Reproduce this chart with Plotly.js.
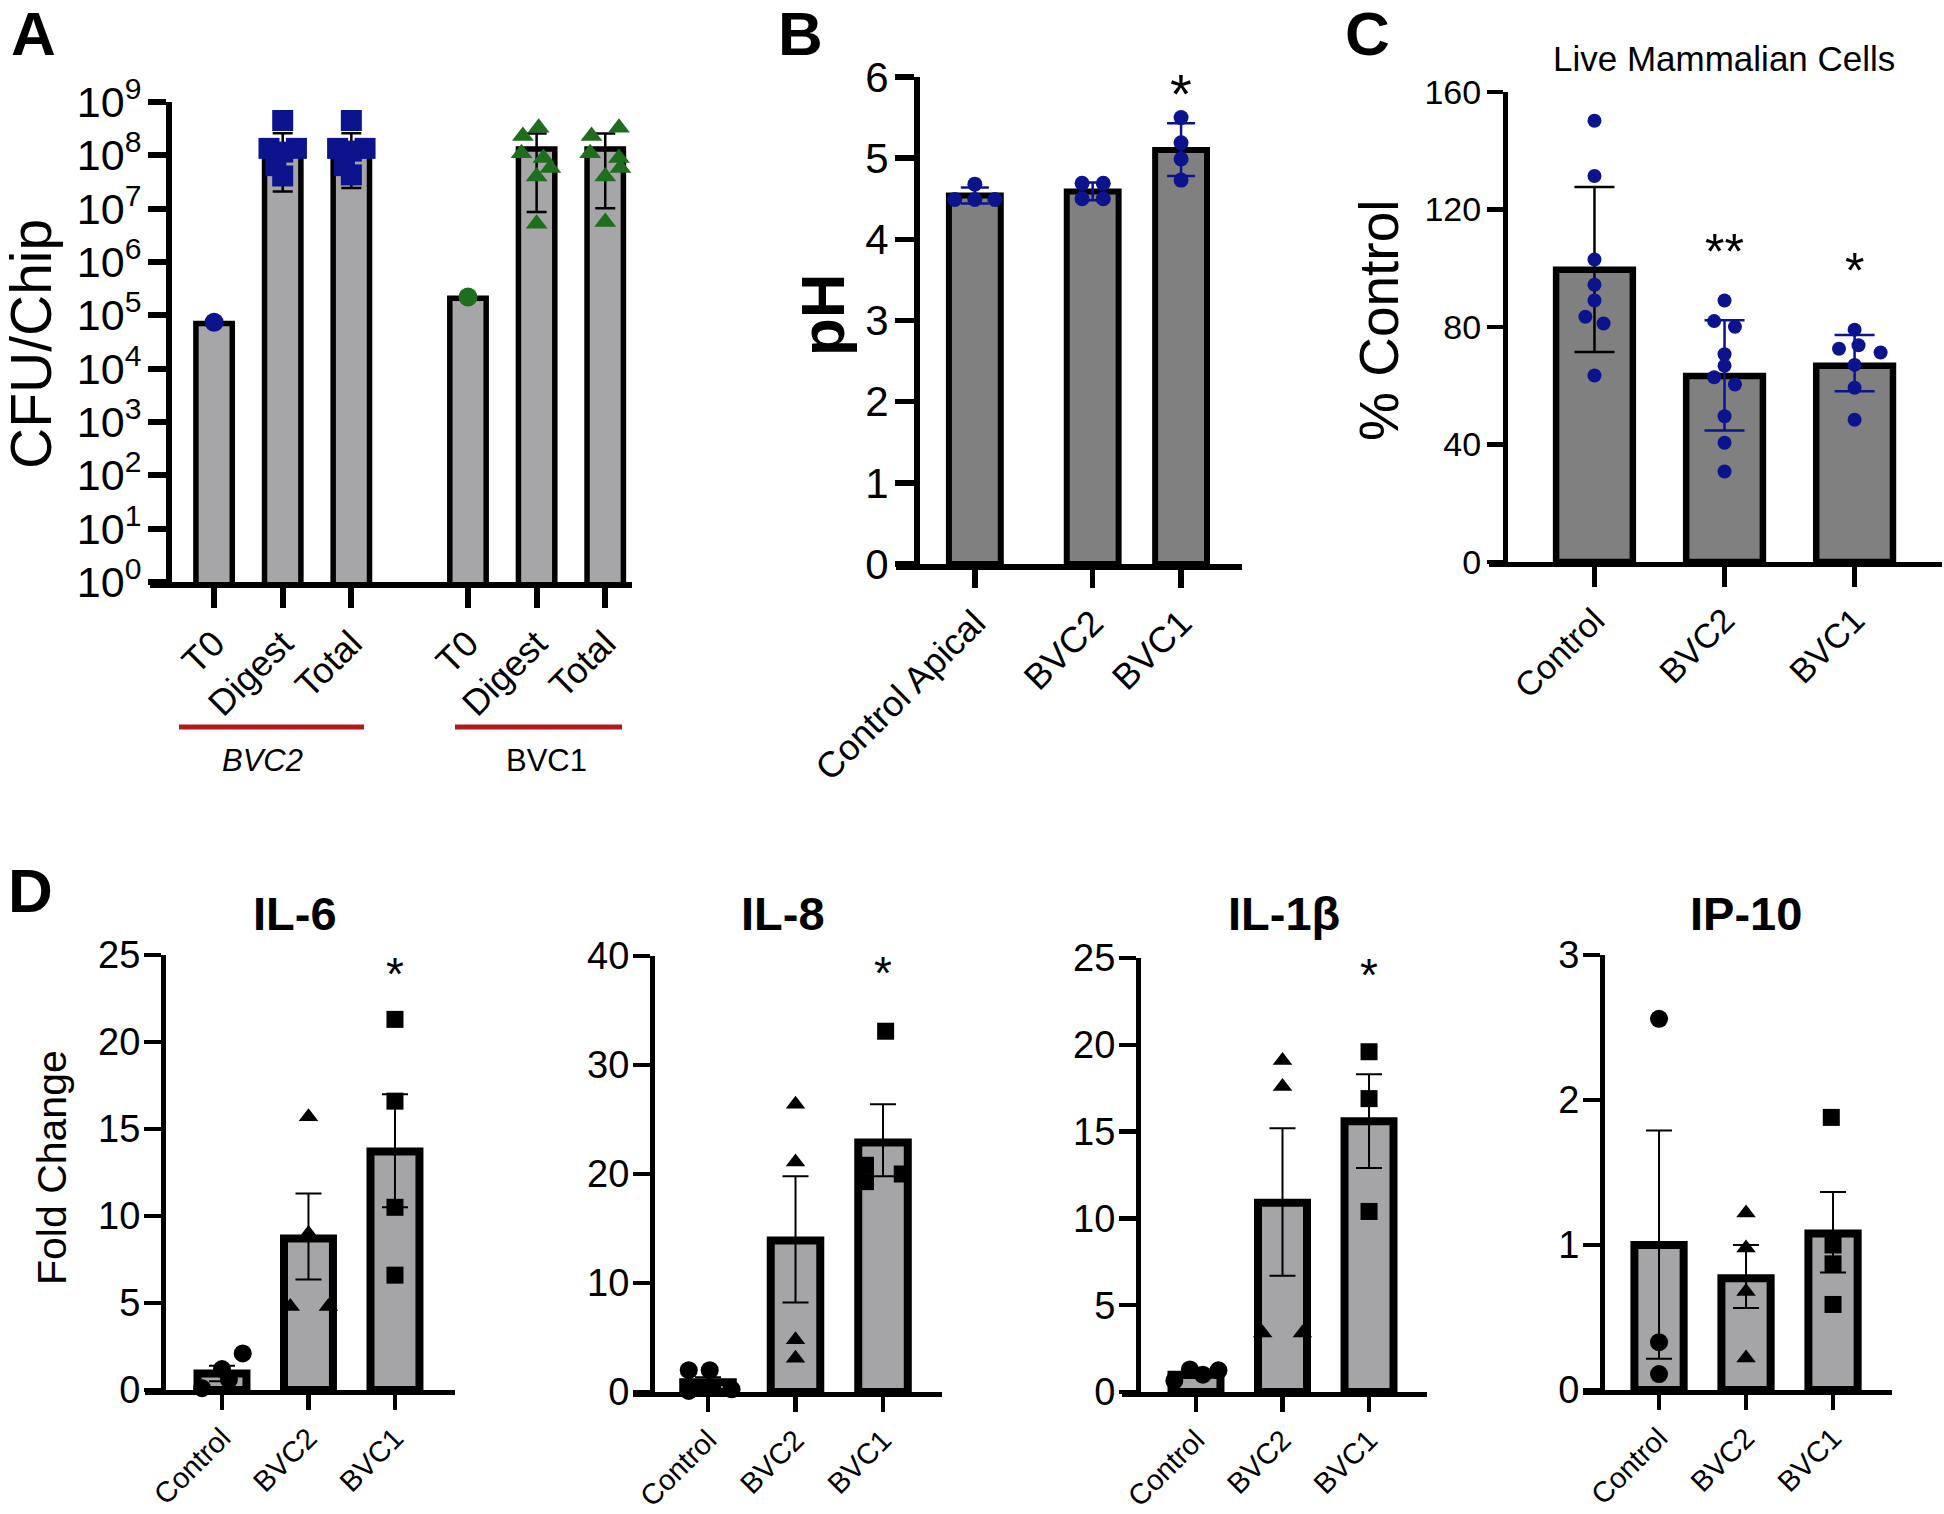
<!DOCTYPE html>
<html>
<head>
<meta charset="utf-8">
<script src="https://cdn.plot.ly/plotly-3.0.1.min.js"></script>
<style>html,body{margin:0;padding:0;background:#fff}#chart{width:1944px;height:1514px}</style>
</head>
<body>
<div id="chart"></div>
<script>
// ---------------- DATA ----------------
// Panel A (CFU/Chip, log scale)
const aCategories = ['T0', 'Digest', 'Total', 'T0', 'Digest', 'Total'];
const aGroups = ['BVC2', 'BVC1'];
const aMeans = [7.0e4, 1.2e8, 1.2e8, 2.1e5, 1.32e8, 1.32e8];
const aUpper = [null, 2.6e8, 2.6e8, null, 2.57e8, 2.57e8];
const aLower = [null, 2.1e7, 2.45e7, null, 8.7e6, 1.02e7];
const aBvc2T0 = [7.4e4];
const aBvc2Digest = [4.5e8, 1.35e8, 1.35e8, 1.15e8, 6.4e7, 4.1e7];
const aBvc2Total = [4.5e8, 1.35e8, 1.35e8, 1.2e8, 6.4e7, 4.3e7];
const aBvc1T0 = [2.2e5];
const aBvc1Digest = [3.3e8, 2.3e8, 1.1e8, 8.9e7, 5.8e7, 4.0e7, 5.2e6];
const aBvc1Total = [3.3e8, 2.3e8, 1.1e8, 8.9e7, 5.8e7, 4.0e7, 5.6e6];

// Panel B (pH)
const bCategories = ['Control Apical', 'BVC2', 'BVC1'];
const bMeans = [4.54, 4.59, 5.10];
const bUpper = [4.64, 4.70, 5.43];
const bLower = [4.44, 4.48, 4.78];
const bControlPts = [4.49, 4.68, 4.49, 4.49];
const bBvc2Pts = [4.69, 4.69, 4.50, 4.50];
const bBvc1Pts = [5.50, 5.19, 4.99, 4.73];
const bStars = ['', '', '*'];

// Panel C (% Control)
const cCategories = ['Control', 'BVC2', 'BVC1'];
const cMeans = [99.5, 63.3, 66.8];
const cUpper = [127.7, 82.3, 77.3];
const cLower = [71.5, 44.8, 58.1];
const cControlPts = [150.2, 131.4, 103.0, 94.4, 89.0, 83.5, 81.2, 63.5];
const cBvc2Pts = [89.0, 82.0, 80.1, 70.7, 66.8, 62.9, 60.4, 49.6, 40.6, 30.8];
const cBvc1Pts = [79.1, 72.6, 73.8, 71.3, 67.1, 59.3, 48.4];
const cStars = ['', '**', '*'];

// Panel D (Fold change)
const dCategories = ['Control', 'BVC2', 'BVC1'];
const dTitles = ['IL-6', 'IL-8', 'IL-1β', 'IP-10'];
const il6Means = [0.95, 8.7, 13.7];
const il6Upper = [1.40, 11.3, 17.0];
const il6Lower = [0.50, 6.35, 10.5];
const il6Control = [0.1, 1.2, 2.1, 0.6];
const il6Bvc2 = [15.7, 9.0, 4.8, 4.8];
const il6Bvc1 = [21.3, 16.6, 10.5, 6.6];
const il6Stars = ['', '', '*'];

const il8Means = [0.9, 13.9, 22.9];
const il8Upper = [1.35, 19.8, 26.4];
const il8Lower = [0.45, 8.2, 19.8];
const il8Control = [2.0, 2.0, 0.1, 0.25];
const il8Bvc2 = [26.4, 21.1, 4.8, 3.1];
const il8Bvc1 = [33.1, 20.8, 20.0, 19.3];
const il8Stars = ['', '', '*'];

const il1bMeans = [1.0, 10.9, 15.6];
const il1bUpper = [1.2, 15.2, 18.3];
const il1bLower = [0.8, 6.7, 12.9];
const il1bControl = [0.65, 1.3, 1.0, 1.25];
const il1bBvc2 = [19.1, 17.6, 3.4, 3.4];
const il1bBvc1 = [19.6, 16.9, 10.4];
const il1bStars = ['', '', '*'];

const ip10Means = [1.0, 0.77, 1.08];
const ip10Upper = [1.79, 1.0, 1.365];
const ip10Lower = [0.215, 0.566, 0.81];
const ip10Control = [2.56, 0.33, 0.11];
const ip10Bvc2 = [1.22, 0.98, 0.68, 0.22];
const ip10Bvc1 = [1.88, 1.0, 0.87, 0.59];
const ip10Stars = ['', '', ''];

// ---------------- LAYOUT / STYLE ----------------
const W = 1944, H = 1514;
const FONT = 'Liberation Sans, Arial, Helvetica, sans-serif';
const NAVY = '#0b148c', GREEN = '#1e6e1e', RED = '#b01a1a';
const px = v => v / W, py = v => 1 - v / H;

// horizontal scatter offsets of points (category units)
const aCatPos = [0, 1, 2, 3.7, 4.7, 5.7];
const jitA2 = [0, -0.2, 0.2, 0, -0.1, 0];
const jitA1D = [0.03, -0.2, -0.22, 0.1, 0.2, 0, 0];
const jitA1T = [0.2, -0.2, -0.22, 0.2, 0.22, 0, 0];
const bCatPos = [0, 1, 1.75];
const jitB = [[-0.17, 0, 0, 0.17], [-0.09, 0.09, -0.09, 0.09], [0, 0, 0, 0]];
const jitC = [[0, 0, 0, 0, 0, -0.07, 0.07, 0], [0, -0.08, 0.08, 0, 0, -0.08, 0.08, 0, 0, 0], [0, -0.12, 0.03, 0.2, 0, 0, 0]];
const jitD = [
  [[-0.23, 0, 0.24, 0.08], [0, 0, -0.21, 0.23], [0, 0, 0, 0]],
  [[-0.22, 0.02, -0.22, 0.27], [0, 0, 0, 0], [0.03, -0.2, 0.22, -0.2]],
  [[-0.25, -0.07, 0.08, 0.26], [0, 0, -0.23, 0.23], [0, 0, 0]],
  [[0, 0, 0], [0, 0, 0, 0], [-0.02, 0, 0, 0]]
];

const traces = [];
const layout = {
  width: W, height: H, margin: {l: 0, r: 0, t: 0, b: 0},
  paper_bgcolor: '#fff', plot_bgcolor: 'rgba(0,0,0,0)',
  showlegend: false, font: {family: FONT, color: '#000'},
  annotations: [], shapes: []
};

function addBar(xa, ya, x, mean, up, lo, st) {
  const t = {
    type: 'bar', xaxis: xa, yaxis: ya, x: [x], y: [mean], width: st.width,
    marker: {color: st.fill, line: {color: '#000', width: st.lw}},
    hoverinfo: 'skip', showlegend: false
  };
  if (up !== null && up !== undefined) {
    t.error_y = {type: 'data', symmetric: false, array: [up - mean], arrayminus: [mean - lo],
      color: st.ecolor, thickness: st.et, width: st.ew};
  }
  traces.push(t);
}
function addPts(xa, ya, x, vals, offs, symbol, color, size) {
  traces.push({
    type: 'scatter', mode: 'markers', xaxis: xa, yaxis: ya,
    x: vals.map((v, i) => x + (offs ? offs[i] : 0)), y: vals,
    marker: {symbol: symbol, color: color, size: size, line: {width: 0}},
    cliponaxis: false, hoverinfo: 'skip', showlegend: false
  });
}
function axes(n, g) {
  const xs = n === 1 ? '' : n;
  layout['xaxis' + xs] = {
    domain: [px(g.x0), px(g.x1)], range: g.xr, anchor: 'y' + xs,
    tickvals: g.tickvals, ticktext: g.ticktext, tickangle: -45,
    tickfont: {family: FONT, size: g.xfs, color: '#000'},
    showline: true, linecolor: '#000', linewidth: g.lw,
    ticks: 'outside', ticklen: g.xtl, tickwidth: g.lw, tickcolor: '#000',
    showgrid: false, zeroline: false, fixedrange: true
  };
  layout['yaxis' + xs] = Object.assign({
    domain: [py(g.yb), py(g.yt)], range: g.yr, anchor: 'free', position: px(g.yx),
    tickfont: {family: FONT, size: g.yfs, color: '#000'},
    showline: true, linecolor: '#000', linewidth: g.lw,
    ticks: 'outside', ticklen: g.ytl, tickwidth: g.lw, tickcolor: '#000',
    ticklabelstandoff: g.so, showgrid: false, zeroline: false, fixedrange: true
  }, g.yextra || {});
}
function ann(text, x, y, size, extra) {
  layout.annotations.push(Object.assign({
    xref: 'paper', yref: 'paper', x: px(x), y: py(y), text: text, showarrow: false,
    font: {family: FONT, size: size, color: '#000'}, xanchor: 'center', yanchor: 'middle'
  }, extra || {}));
}
function star(xa, ya, x, y, text, size) {
  if (!text) return;
  layout.annotations.push({xref: xa, yref: ya, x: x, y: y, text: text, showarrow: false,
    font: {family: FONT, size: size, color: '#000'}, xanchor: 'center', yanchor: 'middle'});
}

// ---------- Panel A ----------
axes(1, {x0: 150, x1: 632, xr: [-0.934, 6.09], tickvals: aCatPos, ticktext: aCategories, xfs: 36,
  yb: 582, yt: 102, yr: [0, 9], yx: 169, yfs: 43, lw: 6, xtl: 20, ytl: 18, so: -2,
  yextra: {type: 'log', tickvals: [1, 10, 1e2, 1e3, 1e4, 1e5, 1e6, 1e7, 1e8, 1e9],
    ticktext: [0, 1, 2, 3, 4, 5, 6, 7, 8, 9].map(k => '10<sup>' + k + '</sup>')}});
const stA = {width: 0.53, fill: '#a6a6a9', lw: 5.5, ecolor: '#000', et: 2.5, ew: 10};
aCatPos.forEach((x, i) => addBar('x', 'y', x, aMeans[i], aUpper[i], aLower[i], stA));
addPts('x', 'y', aCatPos[0], aBvc2T0, null, 'circle', NAVY, 19);
addPts('x', 'y', aCatPos[1], aBvc2Digest, jitA2, 'square', NAVY, 21);
addPts('x', 'y', aCatPos[2], aBvc2Total, jitA2, 'square', NAVY, 21);
addPts('x', 'y', aCatPos[3], aBvc1T0, null, 'circle', GREEN, 19);
addPts('x', 'y', aCatPos[4], aBvc1Digest, jitA1D, 'triangle-up', GREEN, 19);
addPts('x', 'y', aCatPos[5], aBvc1Total, jitA1T, 'triangle-up', GREEN, 19);
layout.shapes.push({type: 'line', xref: 'paper', yref: 'paper', x0: px(179), x1: px(364), y0: py(727), y1: py(727), line: {color: RED, width: 5}});
layout.shapes.push({type: 'line', xref: 'paper', yref: 'paper', x0: px(455), x1: px(622), y0: py(727), y1: py(727), line: {color: RED, width: 5}});
ann('<i>' + aGroups[0] + '</i>', 262, 760, 31);
ann(aGroups[1], 546, 760, 31);
ann('CFU/Chip', 31, 344, 57, {textangle: -90});
ann('<b>A</b>', 33, 33, 62);

// ---------- Panel B ----------
axes(2, {x0: 896, x1: 1242, xr: [-0.669, 2.267], tickvals: bCatPos, ticktext: bCategories, xfs: 36,
  yb: 564, yt: 77, yr: [0, 6], yx: 916, yfs: 42, lw: 5.5, xtl: 18, ytl: 19, so: -2,
  yextra: {tickvals: [0, 1, 2, 3, 4, 5, 6]}});
const stB = {width: 0.44, fill: '#808080', lw: 6, ecolor: NAVY, et: 2.5, ew: 14};
const bPts = [bControlPts, bBvc2Pts, bBvc1Pts];
bCatPos.forEach((x, i) => {
  addBar('x2', 'y2', x, bMeans[i], bUpper[i], bLower[i], stB);
  addPts('x2', 'y2', x, bPts[i], jitB[i], 'circle', NAVY, 15);
  star('x2', 'y2', x, 5.8, bStars[i], 56);
});
ann('<b>pH</b>', 822, 315, 62, {textangle: -90});
ann('<b>B</b>', 800, 33, 62);

// ---------- Panel C ----------
axes(3, {x0: 1489, x1: 1942, xr: [-0.811, 2.672], tickvals: [0, 1, 2], ticktext: cCategories, xfs: 34,
  yb: 562, yt: 92, yr: [0, 160], yx: 1505, yfs: 34, lw: 4.8, xtl: 20, ytl: 16, so: -1,
  yextra: {tickvals: [0, 40, 80, 120, 160]}});
const cPts = [cControlPts, cBvc2Pts, cBvc1Pts];
[0, 1, 2].forEach(i => {
  addBar('x3', 'y3', i, cMeans[i], cUpper[i], cLower[i],
    {width: 0.59, fill: '#808080', lw: 6.5, ecolor: i === 0 ? '#000' : NAVY, et: 2.5, ew: 20});
  addPts('x3', 'y3', i, cPts[i], jitC[i], 'circle', NAVY, 14);
  star('x3', 'y3', i, i === 1 ? 105.5 : 99, cStars[i], 50);
});
ann('Live Mammalian Cells', 1724, 59, 35);
ann('% Control', 1379, 321, 55, {textangle: -90});
ann('<b>C</b>', 1367, 33, 62);

// ---------- Panel D ----------
const dGeom = [
  {x0: 145, x1: 455, xr: [-0.89, 2.694], yb: 1390, yt: 955, yr: [0, 25], yx: 163, tv: [0, 5, 10, 15, 20, 25], tx: 295, sy: 23.9},
  {x0: 633, x1: 942, xr: [-0.857, 2.674], yb: 1392, yt: 956, yr: [0, 40], yx: 652, tv: [0, 10, 20, 30, 40], tx: 783, sy: 38.4},
  {x0: 1122, x1: 1427, xr: [-0.855, 2.67], yb: 1392, yt: 958, yr: [0, 25], yx: 1138, tv: [0, 5, 10, 15, 20, 25], tx: 1284, sy: 24.0},
  {x0: 1583, x1: 1892, xr: [-0.874, 2.678], yb: 1390, yt: 955, yr: [0, 3], yx: 1602, tv: [0, 1, 2, 3], tx: 1746, sy: 2.9}
];
const dData = [
  {m: il6Means, u: il6Upper, l: il6Lower, p: [il6Control, il6Bvc2, il6Bvc1], s: il6Stars},
  {m: il8Means, u: il8Upper, l: il8Lower, p: [il8Control, il8Bvc2, il8Bvc1], s: il8Stars},
  {m: il1bMeans, u: il1bUpper, l: il1bLower, p: [il1bControl, il1bBvc2, il1bBvc1], s: il1bStars},
  {m: ip10Means, u: ip10Upper, l: ip10Lower, p: [ip10Control, ip10Bvc2, ip10Bvc1], s: ip10Stars}
];
const dSym = ['circle', 'triangle-up', 'square'];
const dSize = [18, 17, 17];
dGeom.forEach((g, k) => {
  const n = k + 4, xa = 'x' + n, ya = 'y' + n;
  axes(n, {x0: g.x0, x1: g.x1, xr: g.xr, tickvals: [0, 1, 2], ticktext: dCategories, xfs: 29,
    yb: g.yb, yt: g.yt, yr: g.yr, yx: g.yx, yfs: 38, lw: 4.5, xtl: 15, ytl: 17, so: -4,
    yextra: {tickvals: g.tv}});
  const d = dData[k];
  [0, 1, 2].forEach(i => {
    addBar(xa, ya, i, d.m[i], d.u[i], d.l[i], {width: 0.566, fill: '#a5a5a8', lw: 8, ecolor: '#000', et: 2, ew: 13});
    addPts(xa, ya, i, d.p[i], jitD[k][i], dSym[i], '#000', dSize[i]);
    star(xa, ya, i, g.sy, d.s[i], 46);
  });
  ann('<b>' + dTitles[k] + '</b>', g.tx, 913, 47);
});
ann('Fold Change', 52, 1168, 41, {textangle: -90});
ann('<b>D</b>', 30, 890, 62);

Plotly.newPlot('chart', traces, layout, {staticPlot: true, displayModeBar: false});
</script>
</body>
</html>
